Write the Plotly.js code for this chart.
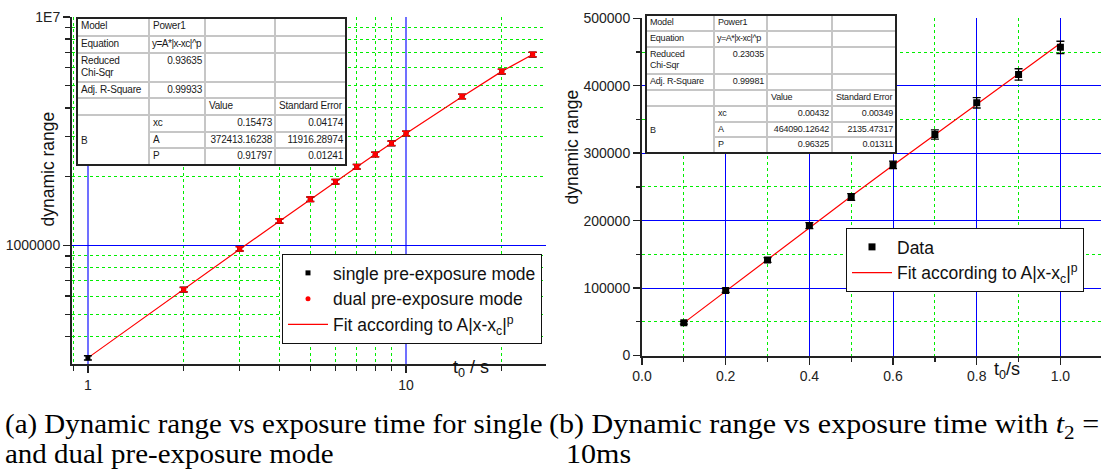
<!DOCTYPE html>
<html><head><meta charset="utf-8">
<script src="https://cdn.plot.ly/plotly-3.0.1.min.js"></script>
<style>
body{margin:0;background:#fff;}
#wrap{position:relative;width:1101px;height:472px;overflow:hidden;background:#fff;}
#plot{position:absolute;left:0;top:0;width:1101px;height:472px;}
.tw{position:absolute;border:2px solid #222;background:#fff;box-sizing:border-box;}
.tbl{border-collapse:collapse;border-style:hidden;background:#fff;font-family:Arial,"Liberation Sans",sans-serif;color:#1a1a1a;table-layout:fixed;}
.tbl td{border:2px solid #c6c6c6;padding:1px 2px 0 3px;vertical-align:top;white-space:nowrap;overflow:visible;letter-spacing:-0.2px;}
.tbl td.r{text-align:right;}
.tbl td.m{vertical-align:middle;}
.cap{position:absolute;font-family:"Liberation Serif","Times New Roman",serif;font-size:27px;line-height:27px;color:#000;white-space:nowrap;transform-origin:0 0;display:inline-block;}
</style></head>
<body>
<div id="wrap">
<div id="plot"></div>
<div id="t1" class="tw"></div>
<div id="t2" class="tw"></div>
<div id="ca1" class="cap">(a) Dynamic range vs exposure time for single</div>
<div id="ca2" class="cap">and dual pre-exposure mode</div>
<div id="cb1" class="cap">(b) Dynamic range vs exposure time with <i>t</i><sub style="font-size:19px;line-height:0">2</sub> =</div>
<div id="cb2" class="cap">10ms</div>
</div>
<script>
// ---------- data: panel (a) ----------
const xSingle = [1, 2, 3, 4, 5, 6, 7, 8, 9, 10, 15, 20, 25];
const ySingle = [322000, 641000, 967000, 1281000, 1593000, 1900000, 2212000, 2503000, 2797000, 3093000, 4487000, 5770000, 6846000];
const errSingle = [7000, 15000, 22000, 29000, 37000, 44000, 51000, 58000, 65000, 72000, 105000, 135000, 160000];
const xDual = [2, 3, 4, 5, 6, 7, 8, 9, 10, 15, 20, 25];
const yDual = [641000, 967000, 1281000, 1593000, 1900000, 2212000, 2503000, 2797000, 3093000, 4487000, 5770000, 6846000];
const errDual = [14000, 21000, 28000, 35000, 42000, 49000, 56000, 62000, 69000, 100000, 130000, 155000];
const fitX1 = [1, 2, 3, 4, 5, 6, 7, 8, 9, 10, 15, 20, 25];
const fitY1 = [322000, 645000, 962000, 1275000, 1590000, 1900000, 2205000, 2505000, 2800000, 3090000, 4480000, 5780000, 6850000];
const xTicks1 = [1, 10];
const xTickText1 = ['1', '10'];
const xMinor1 = [0.9, 2, 3, 4, 5, 6, 7, 8, 9, 20];
const yTicks1 = [1000000, 10000000];
const yTickText1 = ['1000000', '1E7'];
const yMinor1 = [400000, 500000, 600000, 700000, 800000, 900000, 2000000, 3000000, 4000000, 5000000, 6000000, 7000000, 8000000, 9000000];

// ---------- data: panel (b) ----------
const x2 = [0.1, 0.2, 0.3, 0.4, 0.5, 0.6, 0.7, 0.8, 0.9, 1.0];
const y2 = [48500, 96500, 141600, 192600, 235100, 282700, 327700, 374700, 416800, 456900];
const err2 = [2000, 3000, 3500, 4500, 5000, 5500, 6900, 7700, 8400, 9100];
const fitX2 = [0.1, 0.2, 0.3, 0.4, 0.5, 0.6, 0.7, 0.8, 0.9, 1.0];
const fitY2 = [48400, 95600, 142000, 189000, 236000, 282000, 327000, 373000, 418000, 463000];

// ---------- fit tables ----------
const tableLabels = ['Model', 'Equation', 'Reduced<br>Chi-Sqr', 'Adj. R-Square'];
const tableParamHeads = ['Value', 'Standard Error'];
const tableParams = ['xc', 'A', 'P'];
const table1Info = ['Power1', 'y=A*|x-xc|^p', '0.93635', '0.99933'];
const table1Values = ['0.15473', '372413.16238', '0.91797'];
const table1Errors = ['0.04174', '11916.28974', '0.01241'];
const table2Info = ['Power1', 'y=A*|x-xc|^p', '0.23035', '0.99981'];
const table2Values = ['0.00432', '464090.12642', '0.96325'];
const table2Errors = ['0.00349', '2135.47317', '0.01311'];

function buildTable(el, info, vals, errs, geom) {
  const c = geom.cols, h = geom.rows;
  let s = '<table class="tbl" style="width:' + c.reduce((a, b) => a + b, 0) + 'px;font-size:' + geom.fs + 'px;line-height:' + geom.lh + 'px">';
  s += '<colgroup>' + c.map(w => '<col style="width:' + w + 'px">').join('') + '</colgroup>';
  for (let i = 0; i < 4; i++) {
    const cls = i >= 2 ? 'r' : '';
    const eq = i === 1 ? ' style="letter-spacing:-0.5px;padding-left:2px"' : '';
    s += '<tr style="height:' + h[i] + 'px"><td>' + tableLabels[i] + '</td><td class="' + cls + '"' + eq + '>' + info[i] + '</td><td></td><td></td></tr>';
  }
  s += '<tr style="height:' + h[4] + 'px"><td></td><td></td><td>' + tableParamHeads[0] + '</td><td>' + tableParamHeads[1] + '</td></tr>';
  for (let j = 0; j < 3; j++) {
    s += '<tr style="height:' + h[5 + j] + 'px">';
    if (j === 0) s += '<td rowspan="3" class="m">B</td>';
    s += '<td>' + tableParams[j] + '</td><td class="r">' + vals[j] + '</td><td class="r">' + errs[j] + '</td></tr>';
  }
  s += '</table>';
  el.innerHTML = s;
  el.style.left = geom.left + 'px';
  el.style.top = geom.top + 'px';
}
buildTable(document.getElementById('t1'), table1Info, table1Values, table1Errors,
  {left: 76, top: 17, cols: [71, 56, 70, 70], rows: [17, 17, 29, 16, 17, 17, 16, 16], fs: 10, lh: 12});
buildTable(document.getElementById('t2'), table2Info, table2Values, table2Errors,
  {left: 645, top: 14, cols: [67, 53, 65, 63], rows: [15, 16, 27, 16, 16, 16, 15, 15], fs: 9, lh: 11});

// ---------- plot ----------
const FONT = 'Arial, Liberation Sans, sans-serif';
const RED = '#ff0000';
const GREEN = '#00ee00';
const traces = [
  {x: fitX1, y: fitY1, mode: 'lines', line: {color: RED, width: 1.2}, name: 'Fit according to A|x-x<sub>c</sub>|<sup>p</sup>', legendrank: 3, xaxis: 'x', yaxis: 'y', legend: 'legend'},
  {x: xSingle, y: ySingle, mode: 'markers', marker: {symbol: 'square', size: 5, color: '#000'}, error_y: {type: 'data', array: errSingle, color: '#000', thickness: 1.5, width: 4}, name: 'single pre-exposure mode', legendrank: 1, xaxis: 'x', yaxis: 'y', legend: 'legend'},
  {x: xDual, y: yDual, mode: 'markers', marker: {symbol: 'circle', size: 5, color: RED}, error_y: {type: 'data', array: errDual, color: RED, thickness: 1.5, width: 4}, name: 'dual pre-exposure mode', legendrank: 2, xaxis: 'x', yaxis: 'y', legend: 'legend'},
  {x: fitX2, y: fitY2, mode: 'lines', line: {color: RED, width: 1.2}, name: 'Fit according to A|x-x<sub>c</sub>|<sup>p</sup>', legendrank: 2, xaxis: 'x2', yaxis: 'y2', legend: 'legend2'},
  {x: x2, y: y2, mode: 'markers', marker: {symbol: 'square', size: 7, color: '#000'}, error_y: {type: 'data', array: err2, color: '#000', thickness: 1.3, width: 4}, name: 'Data', legendrank: 1, xaxis: 'x2', yaxis: 'y2', legend: 'legend2'}
];

const axBase = {showline: true, linecolor: '#222', linewidth: 2, ticks: 'outside', ticklen: 7, tickwidth: 1.5, tickcolor: '#222', zeroline: false, showgrid: true, tickfont: {size: 14, color: '#222', family: FONT}};
const minorBase = {ticks: 'outside', ticklen: 5, tickwidth: 1.3, tickcolor: '#222', showgrid: true, gridcolor: GREEN, griddash: 'dot', gridwidth: 1};

const legBase = {xanchor: 'left', yanchor: 'top', bgcolor: '#fff', bordercolor: '#111', borderwidth: 1,
  font: {size: 17.5, color: '#111', family: FONT}, itemwidth: 40, traceorder: 'normal'};

const layout = {
  width: 1101, height: 472,
  margin: {l: 0, r: 0, t: 0, b: 0},
  paper_bgcolor: '#fff', plot_bgcolor: '#fff',
  font: {family: FONT, color: '#111'},
  showlegend: true,
  xaxis: Object.assign({}, axBase, {type: 'log', domain: [72 / 1101, 546 / 1101], range: [-0.05, 1.44], anchor: 'y',
    tickmode: 'array', tickvals: xTicks1, ticktext: xTickText1, gridcolor: '#7070ff', gridwidth: 1.6,
    minor: Object.assign({}, minorBase, {tickmode: 'array', tickvals: xMinor1})}),
  yaxis: Object.assign({}, axBase, {type: 'log', domain: [108 / 472, 455 / 472], range: [5.481, 7.0], anchor: 'x',
    tickmode: 'array', tickvals: yTicks1, ticktext: yTickText1, gridcolor: '#0000ff', gridwidth: 1,
    minor: Object.assign({}, minorBase, {tickmode: 'array', tickvals: yMinor1})}),
  xaxis2: Object.assign({}, axBase, {domain: [642 / 1101, 1], range: [0, 1.097], anchor: 'y2',
    tick0: 0, dtick: 0.2, tickformat: '.1f', gridcolor: '#0000ff', gridwidth: 1,
    minor: Object.assign({}, minorBase, {dtick: 0.1, ticklen: 4})}),
  yaxis2: Object.assign({}, axBase, {domain: [116.5 / 472, 453.7 / 472], range: [0, 500000], anchor: 'x2',
    tick0: 0, dtick: 100000, tickformat: 'd', gridcolor: '#0000ff', gridwidth: 1,
    minor: Object.assign({}, minorBase, {dtick: 50000, ticklen: 4})}),
  legend: Object.assign({}, legBase, {x: 282 / 1101, y: 1 - 254 / 472}),
  legend2: Object.assign({}, legBase, {x: 846 / 1101, y: 1 - 228 / 472}),
  annotations: [
    {text: 'dynamic range', textangle: -90, xref: 'paper', yref: 'paper', x: 35 / 1101, y: 1 - 110 / 472, showarrow: false, font: {size: 17.5, color: '#111'}},
    {text: 'dynamic range', textangle: -90, xref: 'paper', yref: 'paper', x: 572 / 1101, y: 1 - 88 / 472, showarrow: false, font: {size: 17.5, color: '#111'}},
    {text: 't<sub>0</sub> / s', xref: 'paper', yref: 'paper', x: 471 / 1101, y: 1 - 382 / 472, showarrow: false, font: {size: 18, color: '#111'}},
    {text: 't<sub>0</sub>/s', xref: 'paper', yref: 'paper', x: 1022 / 1101, y: 1 - 384 / 472, showarrow: false, font: {size: 18, color: '#111'}}
  ]
};

Plotly.newPlot('plot', traces, layout, {staticPlot: true, displayModeBar: false});

// ---------- captions ----------
function place(id, left, top) { const e = document.getElementById(id); e.style.left = left + 'px'; e.style.top = top + 'px'; return e; }
const ca1 = place('ca1', 5, 411), ca2 = place('ca2', 5, 441), cb1 = place('cb1', 549, 411), cb2 = place('cb2', 566, 441);
function fit() {
  const sa = 538 / ca1.offsetWidth, sb = 550 / cb1.offsetWidth;
  ca1.style.transform = ca2.style.transform = 'scaleX(' + sa + ')';
  cb1.style.transform = cb2.style.transform = 'scaleX(' + sb + ')';
}
fit();
if (document.fonts && document.fonts.ready) document.fonts.ready.then(fit);
</script>
</body></html>
